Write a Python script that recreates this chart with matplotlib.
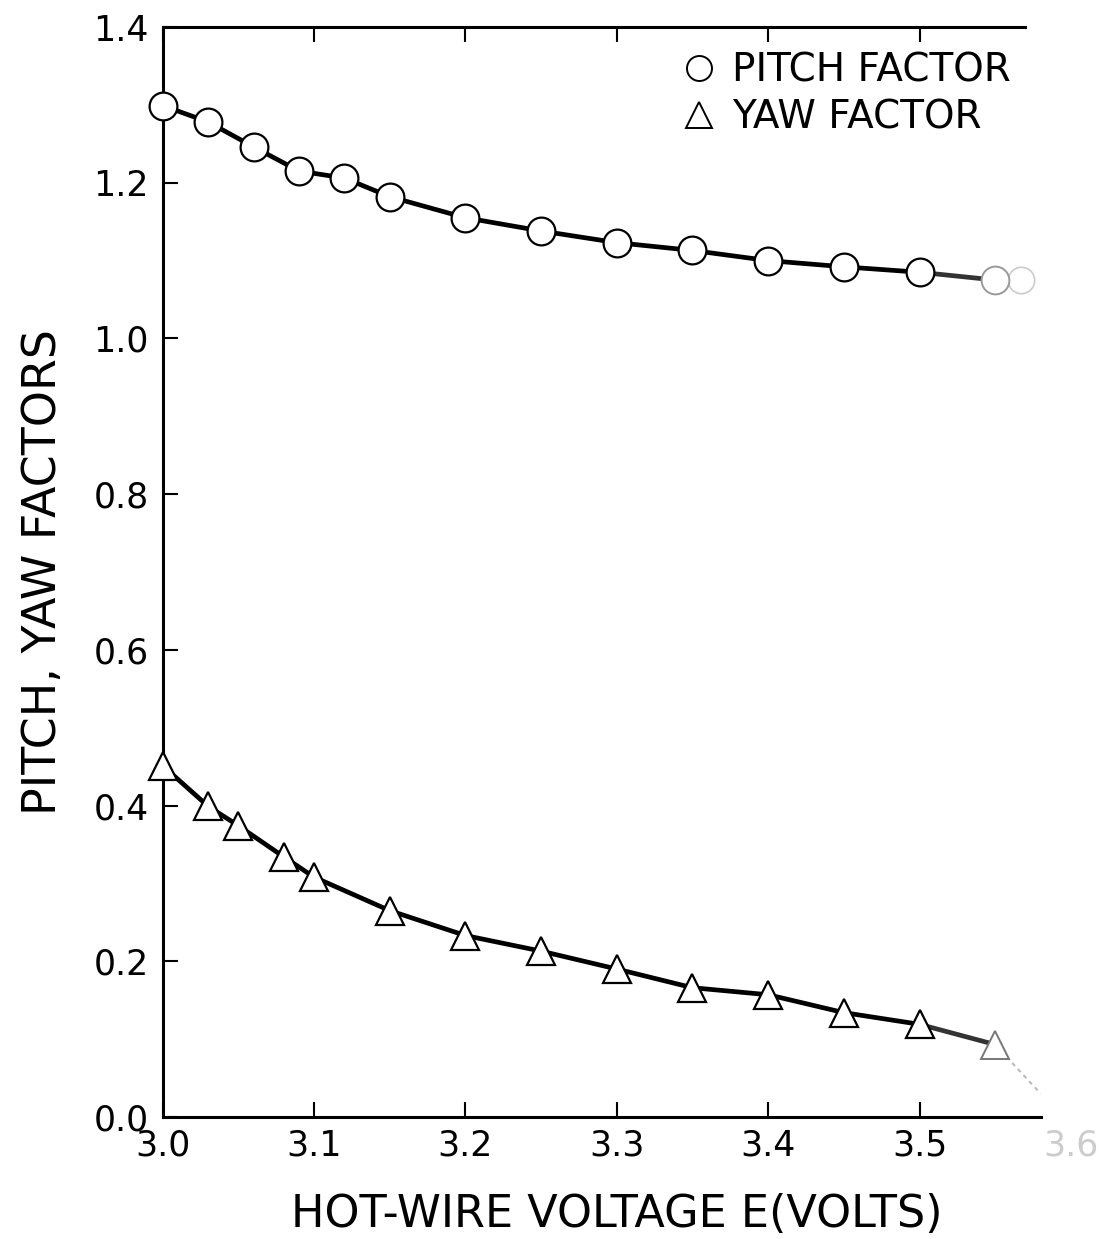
import matplotlib
matplotlib.use('Agg')
import matplotlib.pyplot as plt
from matplotlib.lines import Line2D

plt.rcParams['font.family'] = ['DejaVu Sans']

pitch_x = [3.0, 3.03, 3.06, 3.09, 3.12, 3.15, 3.2, 3.25, 3.3, 3.35, 3.4, 3.45, 3.5, 3.55]
pitch_y = [1.299, 1.278, 1.246, 1.215, 1.206, 1.182, 1.155, 1.138, 1.123, 1.113, 1.100, 1.092, 1.085, 1.075]
yaw_x = [3.0, 3.03, 3.05, 3.08, 3.1, 3.15, 3.2, 3.25, 3.3, 3.35, 3.4, 3.45, 3.5, 3.55]
yaw_y = [0.451, 0.399, 0.374, 0.334, 0.308, 0.265, 0.233, 0.213, 0.19, 0.166, 0.157, 0.134, 0.119, 0.093]
# faded bits at the right edge of the scan
pitch_faint_x = [3.567]
pitch_faint_y = [1.075]
yaw_tail_x = [3.55, 3.58]
yaw_tail_y = [0.093, 0.03]

xticks = [3.0, 3.1, 3.2, 3.3, 3.4, 3.5, 3.6]
yticks = [0.0, 0.2, 0.4, 0.6, 0.8, 1.0, 1.2, 1.4]

fig = plt.figure(figsize=(11, 12.39), dpi=100)
ax = fig.add_axes([0.148, 0.0985, 0.8255, 0.8797])

mk = dict(markerfacecolor='white', markeredgewidth=1.6, linewidth=3.4, clip_on=False)
ax.plot(pitch_faint_x, pitch_faint_y, 'o', color='#cccccc', markersize=19,
        markerfacecolor='white', markeredgewidth=1.2, zorder=2)
ax.plot(yaw_tail_x, yaw_tail_y, color='#bbbbbb', linewidth=1.5, linestyle=(0, (2, 2)), zorder=2)
ax.plot(pitch_x[:-1], pitch_y[:-1], '-o', color='black', markersize=20, zorder=3, **mk)
ax.plot(pitch_x[-2:], pitch_y[-2:], '-', color='#333333', linewidth=3.4, zorder=2)
ax.plot(pitch_x[-1:], pitch_y[-1:], 'o', color='#999999', markersize=20,
        markerfacecolor='white', markeredgewidth=1.4, zorder=3)
ax.plot(yaw_x[:-1], yaw_y[:-1], '-^', color='black', markersize=20, zorder=3, **mk)
ax.plot(yaw_x[-2:], yaw_y[-2:], '-', color='#333333', linewidth=3.4, zorder=2)
ax.plot(yaw_x[-1:], yaw_y[-1:], '^', color='#777777', markersize=20,
        markerfacecolor='white', markeredgewidth=1.4, zorder=3)

ax.set_xlim(3.0, 3.6)
ax.set_ylim(0.0, 1.4)
ax.set_xticks(xticks)
ax.set_xticklabels(['%.1f' % v for v in xticks])
ax.set_yticks(yticks)
ax.set_yticklabels(['%.1f' % v for v in yticks])

ax.tick_params(axis='both', direction='in', length=11, width=1.5, labelsize=25,
               top=True, right=False)
ax.tick_params(axis='x', pad=8)
ax.tick_params(axis='y', pad=10)
ax.get_xticklabels()[-1].set_color('#cccccc')
last = ax.xaxis.get_major_ticks()[-1]
last.tick1line.set_visible(False)
last.tick2line.set_visible(False)

ax.spines['right'].set_visible(False)
for s in ['left', 'bottom', 'top']:
    ax.spines[s].set_linewidth(2.2)
ax.spines['top'].set_bounds(3.0, 3.57)
ax.spines['bottom'].set_bounds(3.0, 3.58)

ax.set_xlabel('HOT-WIRE VOLTAGE E(VOLTS)', fontsize=32, labelpad=22)
ax.set_ylabel('PITCH, YAW FACTORS', fontsize=33, labelpad=20)

handles = [
    Line2D([], [], linestyle='none', marker='o', markersize=18, color='black',
           markerfacecolor='white', markeredgewidth=1.4),
    Line2D([], [], linestyle='none', marker='^', markersize=19, color='black',
           markerfacecolor='white', markeredgewidth=1.4),
]
ax.legend(handles, ['PITCH FACTOR', 'YAW FACTOR'], loc='upper left',
          bbox_to_anchor=(0.552, 0.995), frameon=False, fontsize=28,
          handlelength=0.8, handletextpad=0.45, labelspacing=0.22, borderpad=0)

fig.savefig('out.png', dpi=100)
